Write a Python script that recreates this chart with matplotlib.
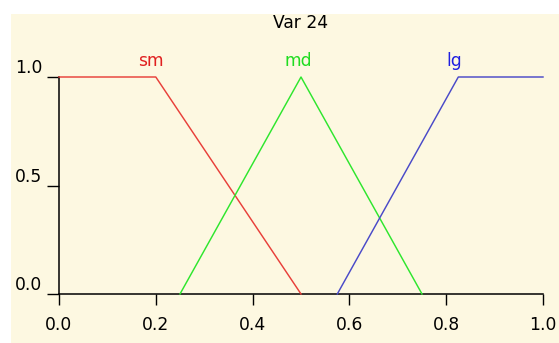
import matplotlib
matplotlib.use("Agg")
import matplotlib.pyplot as plt
from matplotlib.patches import Rectangle

# membership functions for Var 24
sm_x = [0.0, 0.2, 0.5]
sm_y = [1.0, 1.0, 0.0]
md_x = [0.25, 0.5, 0.75]
md_y = [0.0, 1.0, 0.0]
lg_x = [0.575, 0.825, 1.0]
lg_y = [0.0, 1.0, 1.0]

term_names = ["sm", "md", "lg"]
term_label_x = [0.19, 0.495, 0.817]
term_label_y = 1.075

x_ticks = [0.0, 0.2, 0.4, 0.6, 0.8, 1.0]
y_ticks = [0.0, 0.5, 1.0]

cream = "#fdf8e1"
line_colors = ["#e8403a", "#2ee62e", "#4a4ac8"]
text_colors = ["#e02020", "#20dc20", "#2020e0"]

plt.rcParams["font.family"] = "DejaVu Sans"
fs = 12.3

fig = plt.figure(figsize=(5.59, 3.43), dpi=100)
fig.patch.set_facecolor("white")
fig.patches.append(Rectangle((11 / 559, 0), 1 - 11 / 559, (343 - 14) / 343,
                             transform=fig.transFigure, facecolor=cream,
                             edgecolor="none", zorder=-10))

ax = fig.add_axes([59 / 559, 49 / 343, 484 / 559, 217 / 343])
ax.set_facecolor("none")

for xs, ys, c in zip([sm_x, md_x, lg_x], [sm_y, md_y, lg_y], line_colors):
    ax.plot(xs, ys, color=c, lw=1.05, clip_on=False, zorder=3)

for name, lx, c in zip(term_names, term_label_x, text_colors):
    ax.text(lx, term_label_y, name, color=c, ha="center", va="center",
            fontsize=fs)

ax.text(0.5, 1.25, "Var 24", ha="center", va="center",
        fontsize=fs, transform=ax.transAxes)

ax.set_xlim(0, 1)
ax.set_ylim(0, 1)
ax.spines["top"].set_visible(False)
ax.spines["right"].set_visible(False)
ax.spines["left"].set_linewidth(1.1)
ax.spines["bottom"].set_linewidth(1.1)

ax.set_xticks(x_ticks)
ax.set_xticklabels([f"{v:.1f}" for v in x_ticks])
ax.set_yticks(y_ticks)
ax.set_yticklabels([f"{v:.1f}" for v in y_ticks])
ax.tick_params(axis="x", length=8, width=1, pad=8, labelsize=fs)
ax.tick_params(axis="y", length=9, width=1, pad=3, labelsize=fs)
for lab in ax.get_yticklabels():
    lab.set_verticalalignment("bottom")

fig.savefig("out.png", dpi=100, facecolor=fig.get_facecolor())
